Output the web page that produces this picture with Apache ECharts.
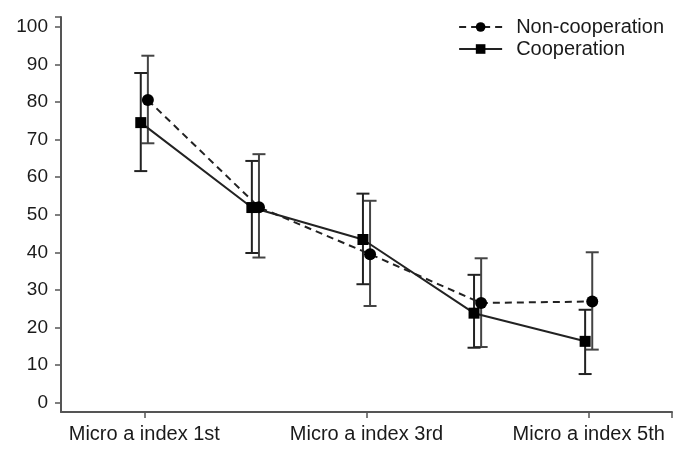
<!DOCTYPE html>
<html>
<head>
<meta charset="utf-8">
<script src="https://cdn.jsdelivr.net/npm/echarts@6/dist/echarts.min.js"></script>
<style>
  html, body { margin: 0; padding: 0; background: #fff; }
  #chart { width: 685px; height: 450px; }
</style>
</head>
<body>
<div id="chart"></div>
<script>
// 时间点（只显示 1st / 3rd / 5th）
const categories = ['Micro a index 1st', 'Micro a index 2nd', 'Micro a index 3rd', 'Micro a index 4th', 'Micro a index 5th'];
const shownTicks = [1, 3, 5];
const yTicks = [0, 10, 20, 30, 40, 50, 60, 70, 80, 90, 100];

// Non-cooperation
const nonCoopMean = [80.5, 52.0, 39.5, 26.5, 26.9];
const nonCoopLow = [69.0, 38.6, 25.7, 14.8, 14.1];
const nonCoopHigh = [92.3, 66.1, 53.7, 38.4, 40.0];

// Cooperation
const coopMean = [74.5, 51.9, 43.4, 23.8, 16.3];
const coopLow = [61.6, 39.8, 31.5, 14.6, 7.6];
const coopHigh = [87.7, 64.3, 55.6, 34.0, 24.7];

const shift = 0.032; // 两组左右错开一点
const textColor = '#1a1a1a';
const axisColor = '#555';
const font = "'Liberation Sans', Arial, sans-serif";

function points (mean, dx) {
    return mean.map((v, i) => [i + 1 + dx, v]);
}
function bars (low, high, dx) {
    return low.map((v, i) => [i + 1 + dx, v, high[i]]);
}

function errorBar (color) {
    return function (params, api) {
        const x = api.value(0);
        const lo = api.coord([x, api.value(1)]);
        const hi = api.coord([x, api.value(2)]);
        const half = 6.5;
        const style = { stroke: color, lineWidth: 2 };
        return {
            type: 'group',
            children: [
                { type: 'line', shape: { x1: lo[0], y1: lo[1], x2: hi[0], y2: hi[1] }, style: style },
                { type: 'line', shape: { x1: lo[0] - half, y1: lo[1], x2: lo[0] + half, y2: lo[1] }, style: style },
                { type: 'line', shape: { x1: hi[0] - half, y1: hi[1], x2: hi[0] + half, y2: hi[1] }, style: style }
            ]
        };
    };
}

const myChart = echarts.init(document.getElementById('chart'));
const option = {
    animation: false,
    textStyle: { fontFamily: font },
    grid: { left: 61, right: 13, top: 17, bottom: 38 },
    legend: {
        orient: 'vertical',
        right: 16,
        top: 12,
        itemWidth: 43,
        itemHeight: 12,
        itemGap: 2,
        data: ['Non-cooperation', 'Cooperation'],
        textStyle: { color: textColor, fontSize: 20, fontFamily: font, padding: [0, 0, 0, 9] }
    },
    xAxis: {
        type: 'value',
        min: 0.25,
        max: 5.75,
        splitLine: { show: false },
        axisLine: { onZero: false, lineStyle: { color: axisColor, width: 2 } },
        axisTick: {
            customValues: shownTicks.concat([5.75]),
            length: 6,
            lineStyle: { color: axisColor, width: 1.5 }
        },
        axisLabel: {
            customValues: shownTicks,
            margin: 12,
            color: textColor,
            fontSize: 20,
            formatter: v => categories[Math.round(v) - 1]
        }
    },
    yAxis: {
        type: 'value',
        min: -2.5,
        max: 102.6,
        splitLine: { show: false },
        axisLine: { show: true, lineStyle: { color: axisColor, width: 2 } },
        axisTick: {
            show: true,
            customValues: yTicks.concat([102.6]),
            length: 6,
            lineStyle: { color: axisColor, width: 1.5 }
        },
        axisLabel: {
            customValues: yTicks,
            margin: 13,
            color: textColor,
            fontSize: 19
        }
    },
    series: [
        {
            name: 'Non-cooperation',
            type: 'line',
            data: points(nonCoopMean, shift),
            symbol: 'circle',
            symbolSize: 12,
            z: 5,
            itemStyle: { color: '#000' },
            lineStyle: { color: '#222', width: 2, type: [7, 5] }
        },
        {
            name: 'Cooperation',
            type: 'line',
            data: points(coopMean, -shift),
            symbol: 'rect',
            symbolSize: 11,
            z: 5,
            itemStyle: { color: '#000' },
            lineStyle: { color: '#222', width: 2 }
        },
        {
            type: 'custom',
            renderItem: errorBar('#444'),
            data: bars(nonCoopLow, nonCoopHigh, shift),
            z: 3
        },
        {
            type: 'custom',
            renderItem: errorBar('#222'),
            data: bars(coopLow, coopHigh, -shift),
            z: 3
        }
    ]
};
myChart.setOption(option);
</script>
</body>
</html>
